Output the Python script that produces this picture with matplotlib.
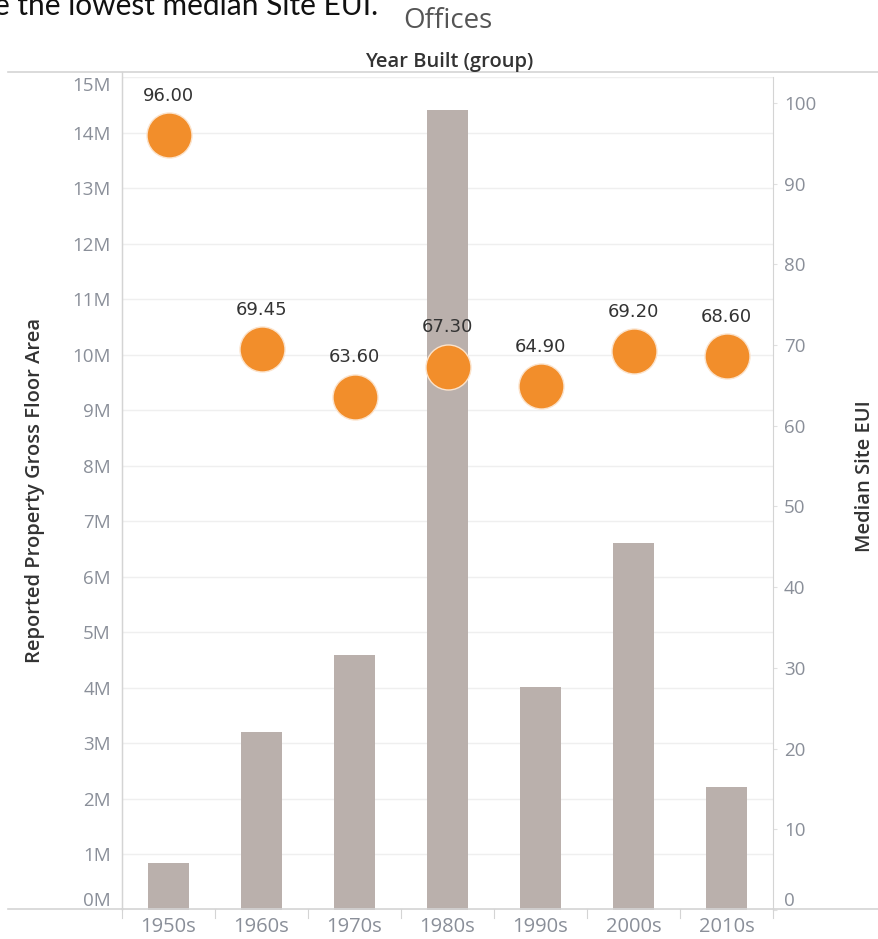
import matplotlib
matplotlib.use("Agg")
import matplotlib.pyplot as plt
from matplotlib.lines import Line2D

decades = ["1950s", "1960s", "1970s", "1980s", "1990s", "2000s", "2010s"]
floor_area = [0.85e6, 3.2e6, 4.59e6, 14.41e6, 4.01e6, 6.6e6, 2.22e6]
median_eui = [96.00, 69.45, 63.60, 67.30, 64.90, 69.20, 68.60]
left_ticks = list(range(0, 16))
right_ticks = list(range(0, 101, 10))

W, H = 879, 939
fig = plt.figure(figsize=(W / 100, H / 100), dpi=100)
plt.rcParams['font.family'] = ['Open Sans', 'DejaVu Sans']

x0, x1 = 122, 773
y_base, y_top = 910, 77
ax = fig.add_axes([x0 / W, (H - y_base) / H, (x1 - x0) / W, (y_base - y_top) / H])
ax2 = ax.twinx()

BAR = "#bab0ac"
ORANGE = "#f28e2b"
TICK = "#8a8f99"
GRID = "#efefef"
AXLINE = "#d4d4d4"
DARK = "#333333"

xs = list(range(len(decades)))
ax.bar(xs, floor_area, width=0.44, color=BAR, zorder=2)
ax.set_xlim(-0.5, len(decades) - 0.5)
ax.set_ylim(0, 15e6)
ax.set_yticks([v * 1e6 for v in left_ticks])
ax.set_yticklabels([f"{v}M" for v in left_ticks])
ax.yaxis.grid(True, color=GRID, lw=1, zorder=0)
ax.set_axisbelow(True)
ax.tick_params(axis='y', length=0, pad=8, labelsize=13.5, labelcolor=TICK)
labs = ax.get_yticklabels()
labs[0].set_va('bottom')
labs[-1].set_va('top')

ax.set_xticks(xs)
ax.set_xticklabels(decades)
ax.tick_params(axis='x', length=0, pad=5, labelsize=14.5, labelcolor=TICK)

for s in ["top", "right", "bottom"]:
    ax.spines[s].set_visible(False)
ax.spines["left"].set_color(AXLINE)

ax2.set_ylim(0, 103.2)
ax2.set_yticks(right_ticks)
ax2.set_yticklabels([str(v) for v in right_ticks])
ax2.tick_params(axis='y', length=3, width=0.8, color="#e0e0e0", pad=5,
                labelsize=13.5, labelcolor=TICK)
rl = ax2.get_yticklabels()
rl[0].set_va('bottom')
for s in ["top", "left", "bottom"]:
    ax2.spines[s].set_visible(False)
ax2.spines["right"].set_color(AXLINE)

ax2.scatter(xs, median_eui, s=1050, color=ORANGE, edgecolor="#fbe3cc",
            linewidth=1, zorder=5)
for xi, v in zip(xs, median_eui):
    ax2.annotate(f"{v:.2f}", (xi, v), xytext=(0, 22), textcoords="offset points",
                 ha="center", va="bottom", fontsize=13, color=DARK,
                 family=['DejaVu Sans'], zorder=6)

# frame lines across the full width
fig.add_artist(Line2D([8 / W, 1], [(H - 909) / H] * 2, color=AXLINE, lw=1.2))
fig.add_artist(Line2D([8 / W, 1], [(H - 72) / H] * 2, color=AXLINE, lw=1.2))
fig.add_artist(Line2D([x0 / W] * 2, [(H - 909) / H, (H - 72) / H], color=AXLINE, lw=1))
for k in range(len(decades) + 1):
    xb = x0 + k * (x1 - x0) / len(decades)
    fig.add_artist(Line2D([xb / W] * 2, [(H - 909) / H, (H - 918) / H],
                          color=AXLINE, lw=0.8))

fig.text(35 / W, (H - 490) / H, "Reported Property Gross Floor Area", rotation=90,
         ha="center", va="center", fontsize=14.5, color=DARK, fontweight="semibold")
fig.text(865 / W, (H - 476) / H, "Median Site EUI", rotation=90,
         ha="center", va="center", fontsize=14.5, color=DARK, fontweight="semibold")
fig.text(449 / W, (H - 67) / H, "Year Built (group)", ha="center", va="baseline",
         fontsize=14.5, color=DARK, fontweight="semibold")
fig.text(448 / W, (H - 28) / H, "Offices", ha="center", va="baseline",
         fontsize=20, color="#555555")
fig.text(-6 / W, (H - 15) / H, "e the lowest median Site EUI.", ha="left",
         va="baseline", fontsize=21.5, color="#111111", family=['Lato', 'DejaVu Sans'])

fig.savefig("out.png", dpi=100, facecolor="white")
